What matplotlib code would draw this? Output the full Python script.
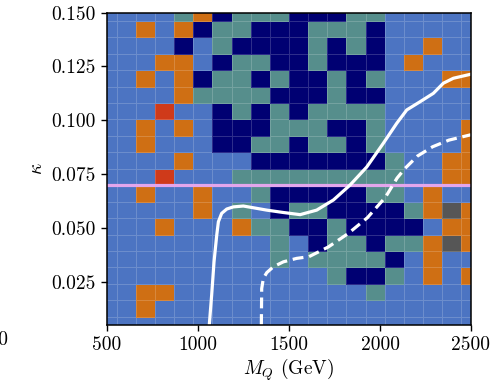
import numpy as np
import matplotlib
matplotlib.use("Agg")
import matplotlib.pyplot as plt
from matplotlib.colors import ListedColormap, BoundaryNorm

# Rejilla de masas y acoplamientos
masas = np.linspace(500, 2500, 20)
kappas = np.linspace(0.005, 0.150, 20)

# Categoria de cada celda, fila superior (kappa=0.150) primero
# b=azul, o=naranja, t=verde azulado, n=azul marino, r=rojo, g=gris
filas = [
    "bbbbtontttnnnttbbbbb",
    "bbobonttnnntttnbbbbb",
    "bbbbnbtnnnntntnbbobb",
    "bbboobnttnntnnnbobbb",
    "bbobonttntnntntbbboo",
    "bbbbottttnnntnnbbbbb",
    "bbbrbbntntnttttbbbbb",
    "bbobobnnntttnntbbbbo",
    "bbobbbnnttnttntbbbbo",
    "bbbbobbbnnnnnnntbboo",
    "bbbrbbbtttttttttbboo",
    "bbobbobbtnnnnnttbobb",
    "bbbbbobtbnttnnnntogo",
    "bbbobbbottnntnnnnboo",
    "bbbbbbbbbtbnttnttogo",
    "bbbbbbbbbtbttttnbobb",
    "bbbbbbbbbbbbtnntbobo",
    "bboobbbbbbbbbbtbbbbb",
    "bbobbbbbbbbbbbbbbbbb",
    "bbbbbbbbbbbbbbbbbbbb",
]
codigos = {"b": 0, "o": 1, "t": 2, "n": 3, "r": 4, "g": 5}
colores = ["#4c74c2", "#cf6f14", "#568e8c", "#000072", "#cf3a1a", "#565656"]

# Contorno continuo
m_solida = [1062, 1075, 1088, 1103, 1112, 1130, 1158, 1194, 1249, 1304, 1378,
            1469, 1561, 1652, 1744, 1835, 1927, 2018, 2092, 2147, 2220, 2293,
            2348, 2403, 2500]
k_solida = [0.005, 0.0188, 0.0343, 0.0467, 0.0529, 0.0568, 0.0588, 0.0598,
            0.0602, 0.0594, 0.0583, 0.0572, 0.0562, 0.0583, 0.0630, 0.0699,
            0.0783, 0.0893, 0.0986, 0.1048, 0.1086, 0.1125, 0.1172, 0.1195,
            0.1214]
# Contorno discontinuo
m_disc = [1348, 1350, 1359, 1378, 1414, 1469, 1542, 1610, 1716, 1826, 1931,
          2030, 2094, 2138, 2206, 2289, 2379, 2500]
k_disc = [0.005, 0.0219, 0.0266, 0.0293, 0.0320, 0.0343, 0.0359, 0.0367,
          0.0412, 0.0475, 0.0548, 0.0643, 0.0732, 0.0777, 0.0834, 0.0877,
          0.0908, 0.0933]
kappa_linea = 0.07

xticks = [500, 1000, 1500, 2000, 2500]
yticks = [0.025, 0.050, 0.075, 0.100, 0.125, 0.150]

plt.rcParams["font.family"] = "serif"
plt.rcParams["font.serif"] = ["cmr10"]
plt.rcParams["mathtext.fontset"] = "cm"
plt.rcParams["axes.formatter.use_mathtext"] = True

z = np.array([[codigos[c] for c in fila] for fila in filas[::-1]])
cmap = ListedColormap(colores)
norm = BoundaryNorm(np.arange(-0.5, 6.5, 1), cmap.N)

fig = plt.figure(figsize=(5, 3.92), dpi=100)
ax = fig.add_axes([0.214, 0.171, 0.728, 0.797])
ax.pcolormesh(masas, kappas, z, cmap=cmap, norm=norm, shading="nearest",
              edgecolors=(1, 1, 1, 0.18), linewidth=0.6)
ax.axhline(kappa_linea, color="#e3a6ec", lw=2.3)
ax.plot(m_solida, k_solida, color="white", lw=2.3, solid_joinstyle="round")
ax.plot(m_disc, k_disc, color="white", lw=2.3, dashes=(3.4, 1.8))

ax.set_xlim(500, 2500)
ax.set_ylim(0.005, 0.150)
ax.set_xticks(xticks)
ax.set_xticklabels([str(t) for t in xticks])
ax.set_yticks(yticks)
ax.set_yticklabels(["%.3f" % t for t in yticks])
ax.tick_params(labelsize=14, length=4.5, width=1)
for s in ax.spines.values():
    s.set_linewidth(1.1)
ax.set_xlabel(r"$M_Q$ (GeV)", fontsize=14, labelpad=2)
ax.set_ylabel(r"$\kappa$", fontsize=14)

# resto de la etiqueta de un panel vecino
fig.text(0.017, 0.1315, "2500", fontsize=14, ha="right", va="center")

fig.savefig("out.png", dpi=100)
